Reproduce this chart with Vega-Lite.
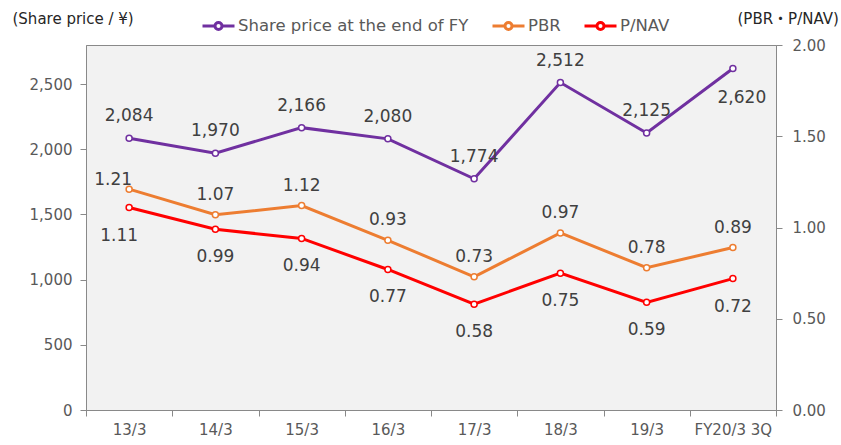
{
  "$schema": "https://vega.github.io/schema/vega-lite/v6.json",
  "width": 690,
  "height": 365,
  "autosize": {"type": "none"},
  "padding": {"left": 86, "top": 45, "right": 65, "bottom": 35},
  "background": "white",
  "config": {
    "font": "DejaVu Sans, Noto Sans CJK JP",
    "view": {"fill": "#f2f2f2", "stroke": "#898989", "strokeWidth": 1},
    "axis": {
      "grid": false,
      "domainColor": "#898989",
      "tickColor": "#898989",
      "labelColor": "#595959",
      "labelFontSize": 15,
      "tickSize": 6,
      "titleFontSize": 15,
      "titleFontWeight": "normal",
      "titleColor": "#262626"
    }
  },
  "data": {
    "values": [
      {"period": "13/3", "series": "Share price at the end of FY", "value": 2084},
      {"period": "14/3", "series": "Share price at the end of FY", "value": 1970},
      {"period": "15/3", "series": "Share price at the end of FY", "value": 2166},
      {"period": "16/3", "series": "Share price at the end of FY", "value": 2080},
      {"period": "17/3", "series": "Share price at the end of FY", "value": 1774},
      {"period": "18/3", "series": "Share price at the end of FY", "value": 2512},
      {"period": "19/3", "series": "Share price at the end of FY", "value": 2125},
      {"period": "FY20/3 3Q", "series": "Share price at the end of FY", "value": 2620},
      {"period": "13/3", "series": "PBR", "value": 1.21},
      {"period": "14/3", "series": "PBR", "value": 1.07},
      {"period": "15/3", "series": "PBR", "value": 1.12},
      {"period": "16/3", "series": "PBR", "value": 0.93},
      {"period": "17/3", "series": "PBR", "value": 0.73},
      {"period": "18/3", "series": "PBR", "value": 0.97},
      {"period": "19/3", "series": "PBR", "value": 0.78},
      {"period": "FY20/3 3Q", "series": "PBR", "value": 0.89},
      {"period": "13/3", "series": "P/NAV", "value": 1.11},
      {"period": "14/3", "series": "P/NAV", "value": 0.99},
      {"period": "15/3", "series": "P/NAV", "value": 0.94},
      {"period": "16/3", "series": "P/NAV", "value": 0.77},
      {"period": "17/3", "series": "P/NAV", "value": 0.58},
      {"period": "18/3", "series": "P/NAV", "value": 0.75},
      {"period": "19/3", "series": "P/NAV", "value": 0.59},
      {"period": "FY20/3 3Q", "series": "P/NAV", "value": 0.72}
    ]
  },
  "encoding": {
    "x": {
      "field": "period",
      "type": "nominal",
      "sort": ["13/3", "14/3", "15/3", "16/3", "17/3", "18/3", "19/3", "FY20/3 3Q"],
      "scale": {"type": "band", "paddingInner": 0, "paddingOuter": 0},
      "bandPosition": 0.5,
      "axis": {"title": null, "labelAngle": 0, "tickBand": "extent", "labelPadding": 6}
    }
  },
  "layer": [
    {
      "transform": [{"filter": "datum.series === 'Share price at the end of FY'"}],
      "encoding": {
        "y": {
          "field": "value",
          "type": "quantitative",
          "scale": {"domain": [0, 2800], "nice": false, "zero": true},
          "axis": {
            "orient": "left",
            "values": [0, 500, 1000, 1500, 2000, 2500],
            "format": ",.0f",
            "labelPadding": 8,
            "title": "(Share price / ¥)",
            "titleAngle": 0,
            "titleAlign": "left",
            "titleBaseline": "middle",
            "titleX": -74,
            "titleY": -27
          }
        }
      },
      "layer": [
        {
          "mark": {"type": "line", "strokeWidth": 3},
          "encoding": {
            "color": {
              "field": "series",
              "type": "nominal",
              "scale": {"domain": ["Share price at the end of FY", "PBR", "P/NAV"], "range": ["#7030A0", "#ED7D31", "#FF0000"]},
              "legend": {
                "orient": "none",
                "legendX": 115,
                "legendY": -37,
                "direction": "horizontal",
                "title": null,
                "symbolType": "M-1,0L-0.27,0M0.27,0L1,0M-0.22,0A0.22,0.22 0 1,0 0.22,0A0.22,0.22 0 1,0 -0.22,0Z",
                "symbolSize": 1024,
                "symbolStrokeWidth": 3,
                "symbolFillColor": "white",
                "labelFontSize": 16.5,
                "labelLimit": 0,
                "labelColor": "#595959",
                "columnPadding": 17,
                "labelOffset": 2
              }
            }
          }
        },
        {
          "mark": {"type": "point", "shape": "circle", "filled": false, "fill": "white", "size": 36, "strokeWidth": 1.5, "opacity": 1},
          "encoding": {
            "color": {"field": "series", "type": "nominal"}
          }
        },
        {
          "transform": [{"filter": "datum.period !== 'FY20/3 3Q'"}],
          "mark": {"type": "text", "fontSize": 17, "color": "#404040", "dy": -22},
          "encoding": {"text": {"field": "value", "type": "quantitative", "format": ","}}
        },
        {
          "transform": [{"filter": "datum.period === 'FY20/3 3Q'"}],
          "mark": {"type": "text", "fontSize": 17, "color": "#404040", "dy": 30, "dx": 9},
          "encoding": {"text": {"field": "value", "type": "quantitative", "format": ","}}
        }
      ]
    },
    {
      "transform": [{"filter": "datum.series !== 'Share price at the end of FY'"}],
      "encoding": {
        "y": {
          "field": "value",
          "type": "quantitative",
          "scale": {"domain": [0, 2], "nice": false, "zero": true},
          "axis": {
            "orient": "right",
            "values": [0, 0.5, 1, 1.5, 2],
            "format": ".2f",
            "labelPadding": 10,
            "title": "(PBR・P/NAV)",
            "titleAngle": 0,
            "titleAlign": "left",
            "titleBaseline": "middle",
            "titleX": -39,
            "titleY": -27
          }
        }
      },
      "layer": [
        {
          "mark": {"type": "line", "strokeWidth": 3},
          "encoding": {
            "color": {"field": "series", "type": "nominal"}
          }
        },
        {
          "mark": {"type": "point", "shape": "circle", "filled": false, "fill": "white", "size": 36, "strokeWidth": 1.5, "opacity": 1},
          "encoding": {
            "color": {"field": "series", "type": "nominal"}
          }
        },
        {
          "transform": [{"filter": "datum.series === 'PBR' && datum.period !== '13/3'"}],
          "mark": {"type": "text", "fontSize": 17, "color": "#404040", "dy": -20},
          "encoding": {"text": {"field": "value", "type": "quantitative", "format": ".2f"}}
        },
        {
          "transform": [{"filter": "datum.series === 'PBR' && datum.period === '13/3'"}],
          "mark": {"type": "text", "fontSize": 17, "color": "#404040", "dy": -9, "dx": -16},
          "encoding": {"text": {"field": "value", "type": "quantitative", "format": ".2f"}}
        },
        {
          "transform": [{"filter": "datum.series === 'P/NAV' && datum.period !== '13/3'"}],
          "mark": {"type": "text", "fontSize": 17, "color": "#404040", "dy": 28},
          "encoding": {"text": {"field": "value", "type": "quantitative", "format": ".2f"}}
        },
        {
          "transform": [{"filter": "datum.series === 'P/NAV' && datum.period === '13/3'"}],
          "mark": {"type": "text", "fontSize": 17, "color": "#404040", "dy": 29, "dx": -10},
          "encoding": {"text": {"field": "value", "type": "quantitative", "format": ".2f"}}
        }
      ]
    }
  ],
  "resolve": {"scale": {"y": "independent"}}
}
